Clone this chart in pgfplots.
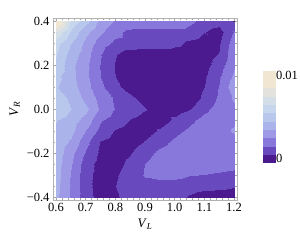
\documentclass[border=0pt]{standalone}
\usepackage{fontspec}
\setmainfont{Liberation Serif}
\usepackage{pgfplots}
\pgfplotsset{compat=1.18}
\usetikzlibrary{calc}
\begin{document}
\begin{tikzpicture}
\useasboundingbox (0,0) rectangle (300pt,241pt);
\begin{axis}[
  at={(53pt,41pt)}, anchor=south west,
  width=184pt, height=182pt, scale only axis,
  xmin=0.5899, xmax=1.2101, ymin=-0.4136, ymax=0.4136,
  xtick={0.6,0.7,0.8,0.9,1.0,1.1,1.2},
  xticklabels={0.6,0.7,0.8,0.9,1.0,1.1,1.2},
  ytick={-0.4,-0.2,0,0.2,0.4},
  yticklabels={−0.4,−0.2,0.0,0.2,0.4},
  minor x tick num=4, minor y tick num=3,
  xtick pos=both, ytick pos=both,
  xticklabel pos=bottom, yticklabel pos=left,
  tick align=inside, major tick length=4pt, minor tick length=2.2pt,
  tick style={gray!70, line width=0.4pt},
  axis line style={gray!60},
  tick label style={font=\fontsize{12.5}{14}\selectfont},
  xlabel={\textit{V}\textsubscript{\textit{L}}},
  ylabel={\textit{V}\textsubscript{\textit{R}}},
  label style={font=\fontsize{13}{15}\selectfont},
  colormap={mma}{rgb255=(75,26,142) rgb255=(104,74,190) rgb255=(136,120,220) rgb255=(158,154,230) rgb255=(170,180,235) rgb255=(184,200,236) rgb255=(198,214,236) rgb255=(212,222,230) rgb255=(228,226,220) rgb255=(240,230,210) rgb255=(240,230,210)},
  colormap access=piecewise constant,
  point meta min=0, point meta max=0.01,
  colorbar right,
  colorbar style={
    at={($(parent axis.south west)+(201pt,37pt)$)}, anchor=south west,
    width=13pt, height=92pt, scale only axis,
    colormap access=piecewise constant,
    scaled y ticks=false,
    ytick={0.0005,0.0095}, yticklabels={0,0.01},
    major tick length=0pt,
    yticklabel style={font=\fontsize{12.5}{14}\selectfont, xshift=-3pt},
    axis line style={draw=none},
  },
]
\addplot[surf, shader=interp, mesh/cols=13, point meta=explicit] coordinates {
(0.6,-0.4)[0.00385] (0.65,-0.4)[0.00256] (0.7,-0.4)[0.00125] (0.75,-0.4)[0.0006] (0.8,-0.4)[0.00077] (0.85,-0.4)[0.00127] (0.9,-0.4)[0.0015] (0.95,-0.4)[0.0015] (1.0,-0.4)[0.00127] (1.05,-0.4)[0.0008] (1.1,-0.4)[0.0005] (1.15,-0.4)[0.0005] (1.2,-0.4)[0.0005]
(0.6,-0.35)[0.00397] (0.65,-0.35)[0.0026] (0.7,-0.35)[0.00118] (0.75,-0.35)[0.00055] (0.8,-0.35)[0.00089] (0.85,-0.35)[0.00139] (0.9,-0.35)[0.0015] (0.95,-0.35)[0.0015] (1.0,-0.35)[0.00145] (1.05,-0.35)[0.00135] (1.1,-0.35)[0.0012] (1.15,-0.35)[0.0011] (1.2,-0.35)[0.00098]
(0.6,-0.3)[0.00405] (0.65,-0.3)[0.00264] (0.7,-0.3)[0.00119] (0.75,-0.3)[0.00058] (0.8,-0.3)[0.0008] (0.85,-0.3)[0.00134] (0.9,-0.3)[0.00191] (0.95,-0.3)[0.00205] (1.0,-0.3)[0.00205] (1.05,-0.3)[0.00185] (1.1,-0.3)[0.0018] (1.15,-0.3)[0.0017] (1.2,-0.3)[0.0016]
(0.6,-0.25)[0.0041] (0.65,-0.25)[0.00282] (0.7,-0.25)[0.00131] (0.75,-0.25)[0.0006] (0.8,-0.25)[0.00059] (0.85,-0.25)[0.00113] (0.9,-0.25)[0.00184] (0.95,-0.25)[0.0024] (1.0,-0.25)[0.0024] (1.05,-0.25)[0.00233] (1.1,-0.25)[0.00225] (1.15,-0.25)[0.00216] (1.2,-0.25)[0.00207]
(0.6,-0.2)[0.0042] (0.65,-0.2)[0.00303] (0.7,-0.2)[0.00169] (0.75,-0.2)[0.00072] (0.8,-0.2)[0.0005] (0.85,-0.2)[0.00085] (0.9,-0.2)[0.00145] (0.95,-0.2)[0.00207] (1.0,-0.2)[0.0024] (1.05,-0.2)[0.0024] (1.1,-0.2)[0.0024] (1.15,-0.2)[0.0024] (1.2,-0.2)[0.0024]
(0.6,-0.15)[0.0043] (0.65,-0.15)[0.0035] (0.7,-0.15)[0.00211] (0.75,-0.15)[0.00087] (0.8,-0.15)[0.0005] (0.85,-0.15)[0.0005] (0.9,-0.15)[0.00096] (0.95,-0.15)[0.0015] (1.0,-0.15)[0.00203] (1.05,-0.15)[0.0025] (1.1,-0.15)[0.0025] (1.15,-0.15)[0.0025] (1.2,-0.15)[0.0025]
(0.6,-0.1)[0.0044] (0.65,-0.1)[0.0039] (0.7,-0.1)[0.00267] (0.75,-0.1)[0.00155] (0.8,-0.1)[0.00084] (0.85,-0.1)[0.0005] (0.9,-0.1)[0.00054] (0.95,-0.1)[0.00104] (1.0,-0.1)[0.00156] (1.05,-0.1)[0.00204] (1.1,-0.1)[0.0025] (1.15,-0.1)[0.0025] (1.2,-0.1)[0.0028]
(0.6,-0.05)[0.0046] (0.65,-0.05)[0.00415] (0.7,-0.05)[0.00328] (0.75,-0.05)[0.00195] (0.8,-0.05)[0.00141] (0.85,-0.05)[0.00088] (0.9,-0.05)[0.0005] (0.95,-0.05)[0.0005] (1.0,-0.05)[0.00107] (1.05,-0.05)[0.00159] (1.1,-0.05)[0.00213] (1.15,-0.05)[0.0025] (1.2,-0.05)[0.0026]
(0.6,0)[0.0053] (0.65,0)[0.00455] (0.7,0)[0.00386] (0.75,0)[0.00264] (0.8,0)[0.00176] (0.85,0)[0.00146] (0.9,0)[0.00096] (0.95,0)[0.0005] (1.0,0)[0.0005] (1.05,0)[0.00087] (1.1,0)[0.00159] (1.15,0)[0.00225] (1.2,0)[0.0025]
(0.6,0.05)[0.00505] (0.65,0.05)[0.00435] (0.7,0.05)[0.00332] (0.75,0.05)[0.00242] (0.8,0.05)[0.0017] (0.85,0.05)[0.00111] (0.9,0.05)[0.0006] (0.95,0.05)[0.0004] (1.0,0.05)[0.0004] (1.05,0.05)[0.0004] (1.1,0.05)[0.00108] (1.15,0.05)[0.00198] (1.2,0.05)[0.0029]
(0.6,0.1)[0.0046] (0.65,0.1)[0.00408] (0.7,0.1)[0.00305] (0.75,0.1)[0.00208] (0.8,0.1)[0.00113] (0.85,0.1)[0.00057] (0.9,0.1)[0.0004] (0.95,0.1)[0.0004] (1.0,0.1)[0.0004] (1.05,0.1)[0.0004] (1.1,0.1)[0.0009] (1.15,0.1)[0.00187] (1.2,0.1)[0.0033]
(0.6,0.15)[0.0048] (0.65,0.15)[0.00393] (0.7,0.15)[0.00292] (0.75,0.15)[0.00183] (0.8,0.15)[0.00092] (0.85,0.15)[0.0004] (0.9,0.15)[0.0004] (0.95,0.15)[0.0004] (1.0,0.15)[0.0004] (1.05,0.15)[0.0004] (1.1,0.15)[0.00075] (1.15,0.15)[0.00168] (1.2,0.15)[0.0029]
(0.6,0.2)[0.0053] (0.65,0.2)[0.0039] (0.7,0.2)[0.00293] (0.75,0.2)[0.00181] (0.8,0.2)[0.00087] (0.85,0.2)[0.0004] (0.9,0.2)[0.0004] (0.95,0.2)[0.0004] (1.0,0.2)[0.0004] (1.05,0.2)[0.0004] (1.1,0.2)[0.00055] (1.15,0.2)[0.00136] (1.2,0.2)[0.0026]
(0.6,0.25)[0.0055] (0.65,0.25)[0.00415] (0.7,0.25)[0.00312] (0.75,0.25)[0.00191] (0.8,0.25)[0.00098] (0.85,0.25)[0.0005] (0.9,0.25)[0.0004] (0.95,0.25)[0.0004] (1.0,0.25)[0.0004] (1.05,0.25)[0.0004] (1.1,0.25)[0.0004] (1.15,0.25)[0.00095] (1.2,0.25)[0.0025]
(0.6,0.3)[0.00585] (0.65,0.3)[0.00456] (0.7,0.3)[0.00335] (0.75,0.3)[0.00229] (0.8,0.3)[0.00162] (0.85,0.3)[0.0015] (0.9,0.3)[0.0015] (0.95,0.3)[0.0015] (1.0,0.3)[0.00117] (1.05,0.3)[0.0007] (1.1,0.3)[0.0005] (1.15,0.3)[0.0008] (1.2,0.3)[0.0023]
(0.6,0.35)[0.0072] (0.65,0.35)[0.0053] (0.7,0.35)[0.00386] (0.75,0.35)[0.0029] (0.8,0.35)[0.0021] (0.85,0.35)[0.00157] (0.9,0.35)[0.0015] (0.95,0.35)[0.0015] (1.0,0.35)[0.0015] (1.05,0.35)[0.00147] (1.1,0.35)[0.00095] (1.15,0.35)[0.0005] (1.2,0.35)[0.0019]
(0.6,0.4)[0.0096] (0.65,0.4)[0.0062] (0.7,0.4)[0.00486] (0.75,0.4)[0.00338] (0.8,0.4)[0.00267] (0.85,0.4)[0.0025] (0.9,0.4)[0.0025] (0.95,0.4)[0.0025] (1.0,0.4)[0.0025] (1.05,0.4)[0.00203] (1.1,0.4)[0.0015] (1.15,0.4)[0.00137] (1.2,0.4)[0.00085]
};
\end{axis}
\end{tikzpicture}
\end{document}
